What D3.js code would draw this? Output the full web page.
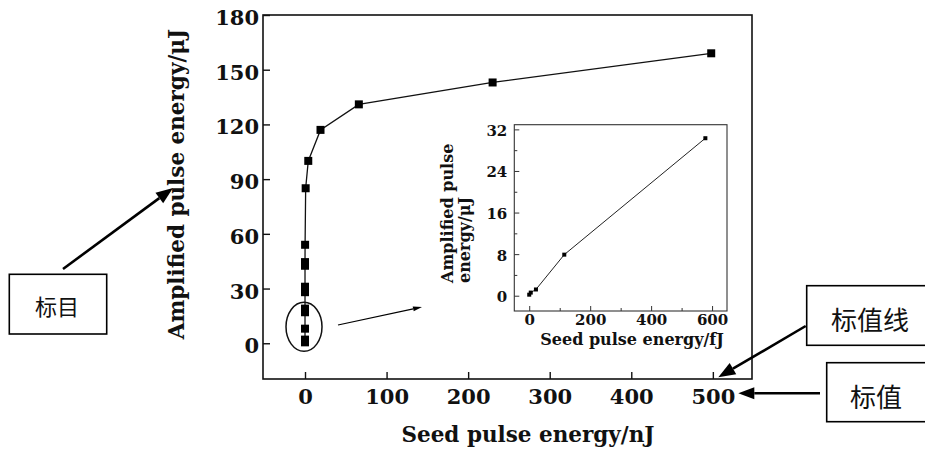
<!DOCTYPE html>
<meta charset="utf-8">
<style>
body { margin: 0; background: #fff; }
svg text { font-family: 'DejaVu Serif', serif; font-weight: bold; fill: #111; }
.cjk { font-family: 'Noto Sans CJK SC', sans-serif !important; font-weight: normal !important; }
</style>
<svg id="svg" width="925" height="451"></svg>
<script src="https://cdn.jsdelivr.net/npm/d3@7/dist/d3.min.js"></script>
<script>

// main chart: seed pulse energy (nJ) vs amplified pulse energy (uJ)
const seedNJ = [0, 0, 0, 0, 0, 0, 0, 0, 0, 0.1, 0.8, 4, 19, 66, 230, 498];
const ampUJ  = [0.5, 2, 8, 17, 19, 28, 31, 42.5, 44.5, 54, 85, 100, 117, 131, 143, 159];
const mainXTicks = [0, 100, 200, 300, 400, 500];
const mainYTicks = [0, 30, 60, 90, 120, 150, 180];

// inset: seed pulse energy (fJ)
const seedFJ   = [0, 5, 22, 115, 578];
const ampInset = [0.2, 0.6, 1.2, 7.9, 30.3];
const insetXTicks = [0, 200, 400, 600];
const insetXMinor = [100, 300, 500];
const insetYTicks = [0, 8, 16, 24, 32];
const insetYMinor = [4, 12, 20, 28];

const svg = d3.select('#svg');

function translate(x, y) { return 'translate(' + x + ',' + y + ')'; }

// arrow with filled head
function arrow(x1, y1, x2, y2, w, hl, hw) {
    let a = Math.atan2(y2 - y1, x2 - x1);
    let bx = x2 - hl * Math.cos(a), by = y2 - hl * Math.sin(a);
    svg.append('line')
        .attr('x1', x1).attr('y1', y1).attr('x2', bx).attr('y2', by)
        .attr('stroke', '#000').attr('stroke-width', w);
    let nx = -Math.sin(a) * hw / 2, ny = Math.cos(a) * hw / 2;
    svg.append('path')
        .attr('d', 'M' + x2 + ',' + y2 + 'L' + (bx + nx) + ',' + (by + ny) + 'L' + (bx - nx) + ',' + (by - ny) + 'Z')
        .attr('fill', '#000');
}

// ---------- main plot ----------
let frame = {left: 263, right: 752, top: 15, bottom: 379};
let x = d3.scaleLinear().domain([-51.5, 548]).range([frame.left, frame.right]);
let y = d3.scaleLinear().domain([-19.6, 180]).range([frame.bottom, frame.top]);

svg.append('rect')
    .attr('x', frame.left).attr('y', frame.top)
    .attr('width', frame.right - frame.left).attr('height', frame.bottom - frame.top)
    .attr('fill', 'none').attr('stroke', '#111').attr('stroke-width', 1.6);

let gx = svg.append('g')
    .attr('transform', translate(0, frame.bottom))
    .call(d3.axisBottom(x).tickValues(mainXTicks).tickSize(-7).tickPadding(10).tickFormat(d3.format('d')));
let gy = svg.append('g')
    .attr('transform', translate(frame.left, 0))
    .call(d3.axisLeft(y).tickValues(mainYTicks).tickSize(-7).tickPadding(4).tickFormat(d3.format('d')));
[gx, gy].forEach(g => {
    g.select('.domain').remove();
    g.selectAll('line').attr('stroke', '#111').attr('stroke-width', 1.4);
    g.selectAll('text').style('font-size', '21px').attr('fill', '#111');
});
gy.selectAll('text').attr('dy', '0.45em');

let pts = seedNJ.map((s, i) => ({x: s, y: ampUJ[i]}));
let line = d3.line().x(d => x(d.x)).y(d => y(d.y));

svg.append('path')
    .attr('d', line(pts))
    .attr('fill', 'none').attr('stroke', '#111').attr('stroke-width', 1.3);

svg.selectAll('.pt')
    .data(pts).enter().append('rect')
    .attr('class', 'pt')
    .attr('x', d => x(d.x) - 4).attr('y', d => y(d.y) - 4)
    .attr('width', 8).attr('height', 8)
    .attr('fill', '#000');

svg.append('text')
    .attr('x', 528).attr('y', 442)
    .attr('text-anchor', 'middle')
    .style('font-size', '21.5px')
    .text('Seed pulse energy/nJ');

svg.append('text')
    .attr('transform', translate(184, 184) + ' rotate(-90)')
    .attr('text-anchor', 'middle')
    .style('font-size', '21.5px')
    .text('Amplified pulse energy/μJ');

// ellipse around low-energy points
svg.append('ellipse')
    .attr('cx', x(0) - 1).attr('cy', y(9))
    .attr('rx', 18).attr('ry', 24.5)
    .attr('fill', 'none').attr('stroke', '#111').attr('stroke-width', 1.5);

arrow(338, 325, 422, 307, 1.2, 9, 5);

// ---------- inset ----------
let iframe = {left: 514.3, right: 727, top: 124.7, bottom: 311};
let ix = d3.scaleLinear().domain([-49, 649]).range([iframe.left, iframe.right]);
let iy = d3.scaleLinear().domain([-2.94, 32.9]).range([iframe.bottom, iframe.top]);

svg.append('rect')
    .attr('x', iframe.left).attr('y', iframe.top)
    .attr('width', iframe.right - iframe.left).attr('height', iframe.bottom - iframe.top)
    .attr('fill', '#fff').attr('stroke', '#333').attr('stroke-width', 1.1);

let igx = svg.append('g')
    .attr('transform', translate(0, iframe.bottom))
    .call(d3.axisBottom(ix).tickValues(insetXTicks).tickSize(-5).tickPadding(3).tickFormat(d3.format('d')));
let igy = svg.append('g')
    .attr('transform', translate(iframe.left, 0))
    .call(d3.axisLeft(iy).tickValues(insetYTicks).tickSize(-5).tickPadding(7).tickFormat(d3.format('d')));
let igx2 = svg.append('g')
    .attr('transform', translate(0, iframe.bottom))
    .call(d3.axisBottom(ix).tickValues(insetXMinor).tickSize(-3).tickFormat(''));
let igy2 = svg.append('g')
    .attr('transform', translate(iframe.left, 0))
    .call(d3.axisLeft(iy).tickValues(insetYMinor).tickSize(-3).tickFormat(''));
[igx, igy, igx2, igy2].forEach(g => {
    g.select('.domain').remove();
    g.selectAll('line').attr('stroke', '#333').attr('stroke-width', 1);
    g.selectAll('text').style('font-size', '15px').attr('fill', '#111');
});
igy.selectAll('text').attr('dy', '0.4em');

let ipts = seedFJ.map((s, i) => ({x: s, y: ampInset[i]}));
let iline = d3.line().x(d => ix(d.x)).y(d => iy(d.y));

svg.append('path')
    .attr('d', iline(ipts))
    .attr('fill', 'none').attr('stroke', '#222').attr('stroke-width', 1);

svg.selectAll('.ipt')
    .data(ipts).enter().append('rect')
    .attr('class', 'ipt')
    .attr('x', d => ix(d.x) - 2).attr('y', d => iy(d.y) - 2)
    .attr('width', 4).attr('height', 4)
    .attr('fill', '#000');

svg.append('text')
    .attr('x', 632).attr('y', 345)
    .attr('text-anchor', 'middle')
    .style('font-size', '16px')
    .text('Seed pulse energy/fJ');

let ylab = svg.append('text')
    .attr('transform', translate(453, 283) + ' rotate(-90)')
    .attr('text-anchor', 'start')
    .style('font-size', '16px');
ylab.append('tspan').attr('x', 0).attr('y', 0).text('Amplified pulse');
ylab.append('tspan').attr('x', 0).attr('y', 17).text('energy/μJ');

// ---------- annotations ----------
function box(bx, by, bw, bh, label, fs, tx, ty) {
    svg.append('rect')
        .attr('x', bx).attr('y', by).attr('width', bw).attr('height', bh)
        .attr('fill', '#fff').attr('stroke', '#000').attr('stroke-width', 1.6);
    svg.append('text')
        .attr('class', 'cjk')
        .attr('x', tx).attr('y', ty)
        .attr('text-anchor', 'middle')
        .attr('dominant-baseline', 'central')
        .style('font-size', fs + 'px')
        .text(label);
}

arrow(63, 269, 173, 188, 2.6, 17, 13);
box(9.3, 274.3, 97.4, 59.7, '标目', 22, 57, 305);

box(806.7, 285.7, 130, 59.6, '标值线', 26, 870, 318);
arrow(805.7, 326, 718.3, 377.3, 2.6, 17, 13);

box(826.7, 362.7, 110, 59, '标值', 26, 876, 395);
arrow(820, 393.3, 738.3, 393.3, 2.6, 16, 12);

</script>
